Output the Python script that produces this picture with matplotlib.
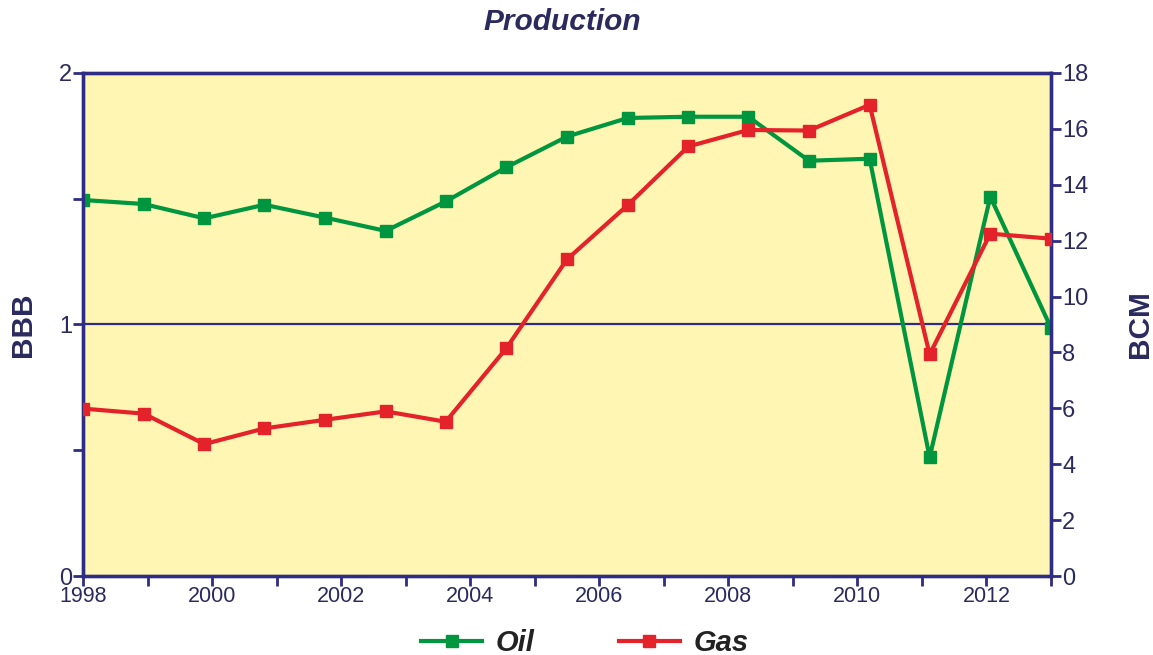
import matplotlib.pyplot as plt
from matplotlib.lines import Line2D

plt.rcParams['font.family'] = ['Liberation Sans', 'DejaVu Sans']

# sample positions along the year axis
years = [1998.0, 1998.94, 1999.88, 2000.81, 2001.75, 2002.69, 2003.62, 2004.56,
         2005.5, 2006.44, 2007.38, 2008.31, 2009.25, 2010.19, 2011.12, 2012.06, 2013.0]
# oil in BBB (left axis)
oil = [1.495, 1.479, 1.422, 1.476, 1.425, 1.372, 1.489, 1.625, 1.747,
       1.821, 1.826, 1.826, 1.651, 1.659, 0.472, 1.508, 0.987]
# gas in BCM (right axis)
gas = [5.99, 5.81, 4.72, 5.28, 5.59, 5.89, 5.52, 8.15, 11.33,
       13.27, 15.37, 15.96, 15.94, 16.86, 7.93, 12.25, 12.07]

navy = '#2F2C85'
text_navy = '#2B2A5E'
green = '#00963F'
red = '#E3222A'
bg = '#FFF6B3'

fig = plt.figure(figsize=(11.53, 6.55), dpi=100)
ax = fig.add_axes([0.072, 0.1206, 0.8395, 0.768])
ax.set_facecolor(bg)
ax2 = ax.twinx()

ax.axhline(1, color=navy, lw=1.6, zorder=1)

ax.plot(years, oil, color=green, lw=3, marker='s', ms=8, zorder=3)
ax2.plot(years, gas, color=red, lw=3, marker='s', ms=8, zorder=3)

ax.set_xlim(1998, 2013)
ax.set_ylim(0, 2)
ax2.set_ylim(0, 18)

ax.set_xticks(range(1998, 2014))
ax.set_xticklabels([str(y) if y % 2 == 0 and y < 2013 else '' for y in range(1998, 2014)])
ax.set_yticks([0, 1, 2])
ax.set_yticks([0.5, 1.5], minor=True)
ax2.set_yticks(range(0, 19, 2))

for a in (ax, ax2):
    for s in a.spines.values():
        s.set_color(navy)
        s.set_linewidth(2.4)
    a.tick_params(which='both', direction='out', length=7, width=2, color=navy,
                  labelcolor=text_navy, pad=1)
ax.tick_params(axis='y', labelsize=17)
ax.tick_params(axis='x', labelsize=15.5, pad=0)
ax2.tick_params(axis='y', labelsize=17)

ax.set_ylabel('BBB', fontsize=21.5, fontweight='bold', color=text_navy)
ax.yaxis.set_label_coords(-0.0475, 0.5)
ax2.set_ylabel('BCM', fontsize=21.5, fontweight='bold', color=text_navy)
ax2.yaxis.set_label_coords(1.0775, 0.5)

fig.text(0.488, 0.966, 'Production', ha='center', va='center', fontsize=21.5,
         fontweight='bold', fontstyle='italic', color=text_navy)

handles = [Line2D([], [], color=green, lw=3, marker='s', ms=8),
           Line2D([], [], color=red, lw=3, marker='s', ms=8)]
leg = fig.legend(handles, ['Oil', 'Gas'], loc='center', bbox_to_anchor=(0.507, 0.018),
                 ncol=2, frameon=False, handlelength=2.1, columnspacing=2.9,
                 handletextpad=0.45,
                 prop={'size': 21, 'weight': 'bold', 'style': 'italic'})
for t in leg.get_texts():
    t.set_color('#222222')

fig.savefig('out.png', dpi=100)
